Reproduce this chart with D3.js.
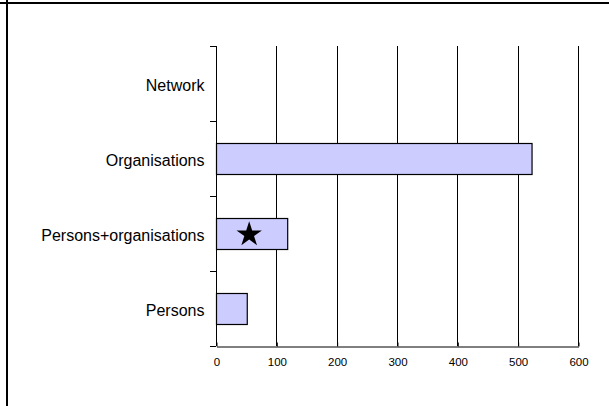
<!DOCTYPE html>
<html><head><meta charset="utf-8">
<script src="https://cdn.jsdelivr.net/npm/d3@7"></script>
<style>body{margin:0;background:#fff;} svg{display:block;}</style>
</head><body>
<script>
const categories = ["Persons", "Persons+organisations", "Organisations", "Network"];
const values = [51, 118, 523, 0];
const xTicks = [0, 100, 200, 300, 400, 500, 600];
const starCategory = "Persons+organisations";
const starValue = 55;

(function () {
const W = 609, H = 406;
const svg = d3.select("body").append("svg").attr("width", W).attr("height", H);

// frame lines
svg.append("line").attr("x1", 0).attr("x2", W).attr("y1", 3).attr("y2", 3).attr("stroke", "#000").attr("stroke-width", 2);
svg.append("line").attr("x1", 7).attr("x2", 7).attr("y1", 0).attr("y2", H).attr("stroke", "#000").attr("stroke-width", 2);

const pl = 216, pr = 578, pt = 46, pb = 346;
const x = d3.scaleLinear().domain([0, 600]).range([pl, pr]);
const y = d3.scaleBand().domain(categories.slice().reverse()).range([pt, pb]).paddingInner(0).paddingOuter(0);

// gridlines
svg.append("g").selectAll("line").data(xTicks.slice(1)).join("line")
  .attr("x1", d => Math.round(x(d)) + 0.5).attr("x2", d => Math.round(x(d)) + 0.5)
  .attr("y1", pt).attr("y2", pb).attr("stroke", "#000").attr("stroke-width", 1);

// bars
const bh = y.bandwidth() * 0.41;
svg.append("g").selectAll("rect").data(categories.map((c, i) => ({c, v: values[i]})).filter(d => d.v > 0)).join("rect")
  .attr("x", x(0) + 0.5)
  .attr("y", d => Math.round(y(d.c) + y.bandwidth() / 2 - bh / 2) + 0.5)
  .attr("width", d => x(d.v) - x(0))
  .attr("height", Math.round(bh))
  .attr("fill", "#CCCCFF").attr("stroke", "#000").attr("stroke-width", 1.2);

// star
const star = d3.symbol().type(d3.symbolStar).size(200);
svg.append("path").attr("d", star())
  .attr("transform", `translate(${x(starValue)},${y(starCategory) + y.bandwidth() / 2 + 1})`)
  .attr("fill", "#000");

// x axis
const xAxis = d3.axisBottom(x).tickValues(xTicks).tickSize(4).tickSizeOuter(0);
const gx = svg.append("g").attr("transform", `translate(0.5,${pb + 0.5})`).call(xAxis);
gx.select(".domain").attr("stroke", "#000");
gx.selectAll(".tick line").attr("stroke", "#000").attr("y1", -4).attr("y2", 0);
gx.selectAll(".tick text").attr("font-family", "Liberation Sans, Arial, sans-serif").attr("font-size", 11.5).attr("fill", "#000").attr("y", 11.5);

// y axis
const yAxis = d3.axisLeft(y).tickSize(0);
const gy = svg.append("g").attr("transform", `translate(${pl + 0.5},0)`).call(yAxis);
gy.select(".domain").attr("stroke", "#000").attr("d", `M0,${pt}V${pb}`);
gy.selectAll(".tick text").attr("font-family", "Liberation Sans, Arial, sans-serif").attr("font-size", 16).attr("fill", "#000").attr("x", -12).attr("y", 2);
// boundary ticks between categories
const bounds = categories.map(c => y(c)).concat([pb]);
svg.append("g").selectAll("line").data(bounds).join("line")
  .attr("x1", pl - 6).attr("x2", pl).attr("y1", d => Math.round(d) + 0.5).attr("y2", d => Math.round(d) + 0.5)
  .attr("stroke", "#000");
})();
</script>
</body></html>
